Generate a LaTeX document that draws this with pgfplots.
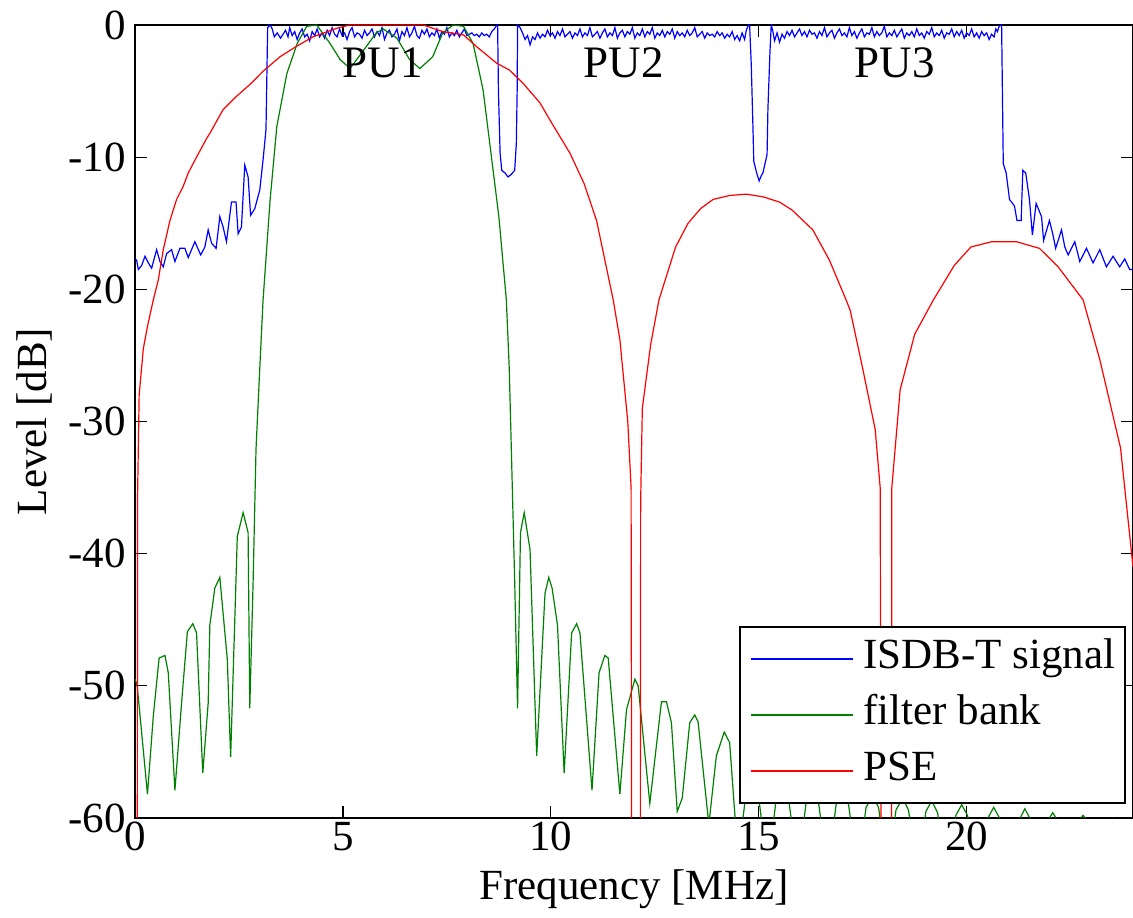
\documentclass[border=0pt]{standalone}
\usepackage{fontspec}
\setmainfont{Liberation Serif}
\usepackage{pgfplots}
\pgfplotsset{compat=1.18}
\definecolor{mblue}{rgb}{0,0,1}
\definecolor{mgreen}{rgb}{0,0.5,0}
\definecolor{mred}{rgb}{1,0,0}
\begin{document}
\begin{tikzpicture}
\begin{axis}[
  width=499pt, height=396.5pt, scale only axis,
  xmin=0, xmax=24, ymin=-60, ymax=0,
  xtick={0,5,10,15,20}, ytick={-60,-50,-40,-30,-20,-10,0},
  tick align=inside, major tick length=6pt,
  axis line style={line width=1pt},
  every tick/.style={black, line width=0.6pt},
  /pgf/number format/assume math mode=true,
  tick label style={font=\fontsize{21.5}{26}\selectfont},
  xticklabel style={anchor=north, inner sep=0pt, yshift=-2pt},
  yticklabel style={anchor=east, inner sep=0pt, xshift=-4.5pt},
  label style={font=\fontsize{21.5}{26}\selectfont},
  xlabel={Frequency [MHz]}, ylabel={Level [dB]},
  xlabel style={at={(axis description cs:0.5,-0.1034)}, anchor=base},
  ylabel style={at={(axis description cs:-0.089,0.5)}, anchor=base},
  legend cell align=left,
  legend image code/.code={\path (0pt,0pt) -- (5pt,0pt); \draw[#1] (5pt,0pt) -- (51pt,0pt);},
  legend style={at={(0.993,0.018)}, anchor=south east, draw=black, line width=0.8pt,
    font=\fontsize{21.5}{26}\selectfont, inner xsep=5pt, inner ysep=2pt, row sep=0pt,
    nodes={inner xsep=0pt, inner ysep=4pt, text height=15pt, text depth=5pt},
    /tikz/every odd column/.append style={column sep=5pt}},
]
% ISDB-T signal
\addplot[mblue, line width=0.6pt] coordinates {
(0,-17.7) (0.04,-17.8) (0.08,-18.5) (0.16,-18.2) (0.24,-17.5) (0.32,-18.0) (0.40,-18.4) (0.52,-17.0)
(0.60,-17.9) (0.68,-18.3) (0.76,-17.3) (0.88,-17.0) (0.96,-17.9) (1.08,-16.9) (1.20,-16.9) (1.28,-17.6)
(1.44,-16.4) (1.58,-17.4) (1.68,-16.8) (1.76,-15.5) (1.84,-16.5) (1.95,-16.9) (2.04,-14.5) (2.12,-15.3)
(2.20,-16.4) (2.32,-13.4) (2.43,-13.4) (2.48,-15.8) (2.56,-15.3) (2.64,-10.6) (2.72,-11.5) (2.78,-14.4)
(2.88,-13.9) (3.00,-12.5) (3.08,-10.2) (3.15,-7.9) (3.19,-0.2) (3.25,0) (3.30,-0.3) (3.35,-0.9)
(3.42,-0.6) (3.50,-1.0) (3.56,-0.7) (3.62,-0.4) (3.68,-0.9) (3.72,-0.2) (3.78,-0.8) (3.84,-0.5)
(3.90,-1.1) (3.96,-0.6) (4.02,-0.3) (4.08,-0.9) (4.14,-0.7) (4.20,-1.2) (4.26,-0.5) (4.32,-0.8)
(4.38,-0.3) (4.44,-0.9) (4.50,-0.6) (4.56,-1.0) (4.62,-0.4) (4.68,-0.8) (4.74,-0.2) (4.80,-0.7)
(4.86,-0.9) (4.92,-0.3) (4.98,-0.8) (5.04,-0.6) (5.10,-1.1) (5.16,-0.5) (5.22,-0.2) (5.28,-0.9)
(5.34,-0.6) (5.40,-0.7) (5.46,-1.0) (5.52,-0.4) (5.58,-0.8) (5.64,-0.6) (5.70,-0.3) (5.76,-0.9)
(5.82,-0.5) (5.88,-0.8) (5.94,-0.2) (6.00,-1.1) (6.06,-0.6) (6.12,-0.4) (6.18,-0.9) (6.24,-0.7)
(6.30,-0.3) (6.36,-1.2) (6.42,-0.5) (6.48,-0.8) (6.54,-0.2) (6.60,-0.9) (6.66,-0.6) (6.72,-0.1)
(6.78,-0.8) (6.84,-1.0) (6.90,-0.4) (6.96,-0.7) (7.02,-0.3) (7.08,-0.9) (7.14,-0.6) (7.20,-0.8)
(7.26,-0.3) (7.32,-1.0) (7.38,-0.5) (7.44,-0.7) (7.50,-0.2) (7.56,-0.9) (7.62,-0.6) (7.68,-0.8)
(7.74,-0.4) (7.80,-0.9) (7.86,-0.6) (7.92,-0.3) (7.98,-0.8) (8.04,-0.7) (8.10,-0.6) (8.16,-0.8)
(8.22,-0.7) (8.28,-0.9) (8.34,-0.6) (8.40,-0.8) (8.46,-0.7) (8.52,-0.9) (8.58,-0.5) (8.64,-0.3)
(8.68,-0.1) (8.72,0) (8.74,-5.0) (8.78,-9.7) (8.82,-11.0) (8.90,-11.2) (8.97,-11.5) (9.05,-11.3)
(9.13,-11.0) (9.17,-9.0) (9.19,-5.0) (9.20,0)
(9.26,-0.2) (9.32,-0.6) (9.38,-1.1) (9.44,-0.8) (9.50,-1.5) (9.56,-0.9) (9.62,-1.1) (9.68,-0.6)
(9.74,-1.0) (9.80,-0.7) (9.86,-0.9) (9.92,-0.4) (9.98,-0.8) (10.04,-0.6) (10.10,-1.0) (10.16,-0.5)
(10.22,-0.8) (10.28,-0.3) (10.34,-0.9) (10.40,-0.7) (10.46,-0.5) (10.52,-1.0) (10.58,-0.6) (10.64,-0.8)
(10.70,-0.3) (10.76,-0.9) (10.82,-0.6) (10.88,-0.8) (10.94,-0.2) (11.00,-0.9) (11.06,-0.7) (11.12,-0.5)
(11.18,-1.0) (11.24,-0.6) (11.30,-0.3) (11.36,-0.9) (11.42,-0.6) (11.48,-0.8) (11.54,-0.2) (11.60,-1.0)
(11.66,-0.6) (11.72,-0.4) (11.78,-0.9) (11.84,-0.5) (11.90,-0.7) (11.96,-0.2) (12.02,-1.0) (12.08,-0.6)
(12.14,-0.8) (12.20,-0.3) (12.26,-0.9) (12.32,-0.5) (12.38,-0.7) (12.44,-0.2) (12.50,-1.0) (12.56,-0.6)
(12.62,-0.8) (12.68,-0.4) (12.74,-0.9) (12.80,-0.5) (12.86,-0.7) (12.92,-0.3) (12.98,-1.0) (13.04,-0.5)
(13.10,-0.8) (13.16,-0.6) (13.22,-0.9) (13.28,-0.4) (13.34,-0.8) (13.40,-0.6) (13.46,-0.2) (13.52,-0.9)
(13.58,-0.7) (13.64,-0.5) (13.70,-1.0) (13.76,-0.6) (13.82,-0.8) (13.88,-0.7) (13.94,-0.9) (14.00,-0.5)
(14.06,-0.8) (14.12,-0.6) (14.18,-1.0) (14.24,-0.7) (14.30,-0.9) (14.36,-0.5) (14.42,-1.1) (14.48,-0.8)
(14.54,-1.2) (14.60,-0.6) (14.66,-1.1) (14.70,-0.4) (14.74,-0.1) (14.78,0)
(14.82,-3.0) (14.86,-7.7) (14.88,-10.3) (14.95,-11.2) (15.01,-11.8) (15.06,-11.4) (15.10,-11.2)
(15.20,-9.8) (15.22,-6.4) (15.27,-2.0) (15.30,0)
(15.34,-0.5) (15.38,-1.2) (15.44,-0.6) (15.50,-1.3) (15.56,-0.7) (15.62,-1.0) (15.68,-0.5) (15.74,-0.8)
(15.80,-0.4) (15.86,-0.9) (15.92,-0.6) (15.98,-0.3) (16.04,-0.8) (16.10,-0.5) (16.16,-0.9) (16.22,-0.4)
(16.28,-0.7) (16.34,-0.6) (16.40,-1.0) (16.46,-0.5) (16.52,-0.8) (16.58,-0.2) (16.64,-0.9) (16.70,-0.6)
(16.76,-0.4) (16.82,-1.0) (16.88,-0.6) (16.94,-0.3) (17.00,-0.8) (17.06,-0.6) (17.12,-0.9) (17.18,-0.2)
(17.24,-0.8) (17.30,-0.5) (17.36,-1.0) (17.42,-0.6) (17.48,-0.3) (17.54,-0.9) (17.60,-0.6) (17.66,-0.7)
(17.72,-0.2) (17.78,-0.9) (17.84,-0.5) (17.90,-0.8) (17.96,-0.6) (18.02,-0.1) (18.08,-0.9) (18.14,-0.6)
(18.20,-0.8) (18.26,-0.4) (18.32,-0.9) (18.38,-0.6) (18.44,-0.3) (18.50,-1.0) (18.56,-0.6) (18.62,-0.8)
(18.68,-0.5) (18.74,-0.9) (18.80,-0.3) (18.86,-0.8) (18.92,-0.6) (18.98,-1.0) (19.04,-0.5) (19.10,-0.7)
(19.16,-0.2) (19.22,-0.9) (19.28,-0.6) (19.34,-0.8) (19.40,-0.4) (19.46,-1.0) (19.52,-0.6) (19.58,-0.7)
(19.64,-0.3) (19.70,-0.9) (19.76,-0.5) (19.82,-0.8) (19.88,-0.4) (19.94,-1.0) (20.00,-0.6) (20.06,-0.8)
(20.12,-0.3) (20.18,-0.9) (20.24,-0.6) (20.30,-1.0) (20.36,-0.5) (20.42,-0.8) (20.48,-0.6) (20.54,-1.1)
(20.60,-0.7) (20.66,-0.9) (20.70,-0.3) (20.74,-0.5) (20.78,-0.1) (20.84,0)
(20.88,-10.5) (20.95,-11.2) (21.03,-13.2) (21.15,-13.7) (21.21,-14.8) (21.31,-14.8) (21.35,-11.0)
(21.42,-11.2) (21.51,-13.2) (21.58,-15.9) (21.67,-13.5) (21.80,-14.5) (21.85,-16.3) (21.99,-14.8)
(22.07,-15.8) (22.14,-16.9) (22.28,-15.5) (22.36,-16.8) (22.44,-17.4) (22.60,-16.4) (22.72,-17.9)
(22.88,-16.9) (23.04,-18.0) (23.20,-17.0) (23.36,-18.3) (23.52,-17.5) (23.68,-18.3) (23.80,-17.7)
(23.92,-18.5) (24.00,-18.5)
};
\addlegendentry{ISDB-T signal}
% filter bank
\addplot[mgreen, line width=0.6pt] coordinates {
(0,-49.5) (0.05,-49.9) (0.30,-58.2) (0.44,-52.3) (0.58,-47.9) (0.72,-47.7) (0.80,-49.0) (0.96,-57.9)
(1.12,-51.3) (1.26,-45.9) (1.39,-45.3) (1.48,-46.0) (1.63,-56.6) (1.76,-51.3) (1.80,-45.4) (1.92,-42.6)
(2.04,-41.8) (2.22,-48.0) (2.30,-55.4) (2.46,-38.7) (2.60,-36.9) (2.72,-38.4) (2.76,-51.7) (2.84,-42.2)
(2.91,-32.1) (3.00,-26.0) (3.08,-20.8) (3.25,-13.2) (3.41,-7.7) (3.65,-3.7) (3.90,-1.4) (4.13,-0.1)
(4.37,0) (4.69,-1.4) (4.93,-2.6) (5.17,-3.3) (5.50,-1.9) (5.80,-0.6) (5.97,-0.3) (6.30,-1.0)
(6.60,-2.6) (6.85,-3.3) (7.16,-2.4) (7.40,-0.6) (7.65,0) (7.90,-0.1) (8.13,-1.4) (8.37,-4.9)
(8.60,-10.7) (8.75,-14.5) (8.93,-20.8) (9.00,-26.0) (9.05,-32.1) (9.13,-42.0) (9.20,-51.7) (9.27,-38.4)
(9.36,-36.9) (9.50,-39.7) (9.66,-55.3) (9.86,-43.0) (9.95,-41.8) (10.03,-42.6) (10.16,-45.4) (10.32,-56.6)
(10.50,-46.0) (10.62,-45.3) (10.70,-46.0) (10.99,-57.9) (11.16,-49.0) (11.30,-47.7) (11.38,-47.9) (11.66,-58.2)
(11.82,-51.8) (12.02,-49.5) (12.10,-50.0) (12.38,-58.9) (12.66,-51.2) (12.78,-51.2) (12.90,-52.8) (13.04,-59.5)
(13.16,-58.5) (13.34,-52.8) (13.46,-52.2) (13.54,-52.7) (13.80,-60.5) (13.98,-55.3) (14.17,-53.5) (14.30,-54.3)
(14.50,-63.0) (14.70,-58.0) (14.86,-57.2) (15.00,-58.5) (15.22,-64.0) (15.42,-58.5) (15.58,-57.5) (15.72,-58.6)
(15.94,-64.0) (16.14,-58.8) (16.30,-57.8) (16.44,-58.9) (16.66,-64.0) (16.86,-59.0) (17.02,-58.0) (17.16,-59.0)
(17.38,-64.0) (17.58,-59.2) (17.74,-58.3) (17.88,-59.2) (18.10,-64.0) (18.30,-59.4) (18.46,-58.5) (18.60,-59.4)
(18.82,-64.0) (19.02,-59.5) (19.16,-58.7) (19.30,-59.6) (19.50,-64.0) (19.74,-59.8) (19.88,-59.0) (20.02,-59.8)
(20.26,-64.0) (20.51,-60.0) (20.65,-59.2) (20.79,-60.0) (21.02,-64.0) (21.27,-60.1) (21.40,-59.3) (21.53,-60.1)
(21.74,-64.0) (21.95,-60.2) (22.07,-59.6) (22.19,-60.2) (22.44,-64.0) (22.70,-60.2) (22.80,-59.8) (22.90,-60.2)
(23.16,-64.0) (23.50,-60.1) (23.85,-64.0) (24.00,-62.0)
};
\addlegendentry{filter bank}
% PSE
\addplot[mred, line width=0.6pt] coordinates {
(0.05,-100) (0.06,-36) (0.10,-28) (0.20,-24.5) (0.30,-22.8) (0.44,-20.8) (0.56,-19.3) (0.68,-17.0)
(0.84,-14.8) (1.00,-13.2) (1.16,-12.2) (1.28,-11.2) (1.48,-10.0) (1.72,-8.6) (1.80,-8.2) (2.12,-6.4)
(2.44,-5.4) (2.80,-4.4) (3.08,-3.5) (3.49,-2.4) (3.89,-1.6) (4.28,-0.9) (4.85,-0.25) (5.17,0)
(6.00,0) (6.93,0) (7.40,-0.5) (7.90,-0.75) (8.20,-1.6) (8.70,-2.9) (9.00,-3.4) (9.33,-4.4)
(9.74,-5.9) (9.98,-7.2) (10.46,-9.7) (10.80,-12.0) (11.10,-14.8) (11.50,-20.8) (11.66,-23.8) (11.85,-30.0)
(11.93,-35.0) (11.96,-100) (12.14,-100) (12.16,-36) (12.20,-29.0) (12.40,-24.2) (12.60,-20.8) (13.00,-16.8)
(13.30,-15.0) (13.60,-13.9) (13.90,-13.2) (14.30,-12.9) (14.70,-12.8) (15.10,-13.0) (15.50,-13.4) (15.80,-14.0)
(16.30,-15.5) (16.70,-17.8) (16.90,-19.3) (17.10,-20.8) (17.20,-21.6) (17.50,-26.0) (17.80,-30.6) (17.92,-35.0)
(17.97,-100) (18.18,-100) (18.20,-35.0) (18.40,-27.6) (18.75,-23.4) (19.20,-20.8) (19.70,-18.2) (20.10,-16.8)
(20.60,-16.4) (21.20,-16.4) (21.75,-16.9) (22.20,-18.3) (22.80,-20.8) (23.20,-25.3) (23.70,-32.0) (24.00,-41.0)
};
\addlegendentry{PSE}
\node[font=\fontsize{22.5}{27}\selectfont, anchor=base] at (axis cs:5.96,-4.0) {PU1};
\node[font=\fontsize{22.5}{27}\selectfont, anchor=base] at (axis cs:11.75,-4.0) {PU2};
\node[font=\fontsize{22.5}{27}\selectfont, anchor=base] at (axis cs:18.27,-4.0) {PU3};
\end{axis}
\pgfresetboundingbox
\path[use as bounding box] ([xshift=-67.5pt,yshift=-50pt]current axis.south west) rectangle ([yshift=12.5pt]current axis.north east);
\end{tikzpicture}
\end{document}
